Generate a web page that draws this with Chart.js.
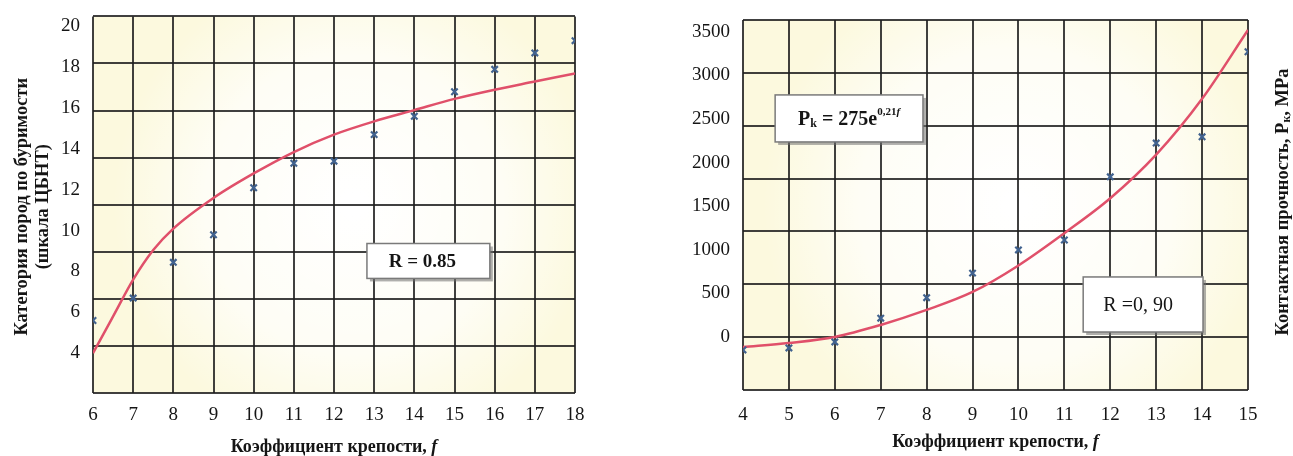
<!DOCTYPE html>
<html>
<head>
<meta charset="utf-8">
<script src="https://cdn.jsdelivr.net/npm/chart.js@4.4.1/dist/chart.umd.min.js"></script>
<style>
  html, body { margin: 0; padding: 0; background: #fff; overflow: hidden; }
  #wrapLeft { position: absolute; left: 0; top: 0; width: 600px; height: 456px; }
  #wrapRight { position: absolute; left: 640px; top: 0; width: 653px; height: 456px; }
</style>
</head>
<body>
<div id="wrapLeft"><canvas id="leftChart"></canvas></div>
<div id="wrapRight"><canvas id="rightChart"></canvas></div>
<script>
// --- left chart: drillability category vs. strength coefficient f
const fLeft = [6, 7, 8, 9, 10, 11, 12, 13, 14, 15, 16, 17, 18];
const categoryPoints = [5.6, 6.7, 8.45, 9.8, 12.1, 13.3, 13.4, 14.7, 15.6, 16.8, 17.9, 18.7, 19.3];
const fCurveLeft = [6, 6.5, 7, 7.5, 8, 9, 10, 11, 12, 13, 14, 15, 16, 17, 18];
const categoryCurve = [4.0, 5.8, 7.6, 9.05, 10.1, 11.6, 12.8, 13.85, 14.7, 15.35, 15.9, 16.45, 16.9, 17.3, 17.7];
const leftTicksY = [4, 6, 8, 10, 12, 14, 16, 18, 20];

// --- right chart: contact strength Pk vs. f
const fRight = [4, 5, 6, 7, 8, 9, 10, 11, 12, 13, 14, 15];
const pkPoints = [-149, -126, -57, 215, 450, 732, 998, 1112, 1836, 2223, 2295, 3270];
const fCurveRight = [4, 5, 6, 7, 8, 9, 10, 11, 12, 13, 14, 15];
const pkCurve = [-115, -69, 0, 138, 310, 516, 820, 1190, 1590, 2090, 2730, 3520];
const rightTicksY = [0, 500, 1000, 1500, 2000, 2500, 3000, 3500];

const SERIF = '"Liberation Serif", "Times New Roman", serif';
const GRID = 'rgba(30, 30, 30, 0.85)';
const RED = '#e0506a';
const BLUE = '#41628f';

function drawRuns(ctx, runs, x, y, rot) {
  ctx.save();
  ctx.translate(x, y);
  ctx.rotate(rot || 0);
  ctx.textAlign = 'left';
  ctx.textBaseline = 'middle';
  ctx.fillStyle = '#151515';
  let total = 0;
  runs.forEach(r => { ctx.font = r.font; r.w = ctx.measureText(r.text).width; total += r.w; });
  let cx = -total / 2;
  runs.forEach(r => {
    ctx.font = r.font;
    ctx.fillText(r.text, cx, r.dy || 0);
    cx += r.w;
  });
  ctx.restore();
}

// cream paper background with lighter middle
const paper = {
  id: 'paper',
  beforeDraw(chart) {
    const { ctx, chartArea: a } = chart;
    ctx.save();
    ctx.fillStyle = '#fcf9de';
    ctx.fillRect(a.left, a.top, a.right - a.left, a.bottom - a.top);
    const cx = (a.left + a.right) / 2 + 20, cy = (a.top + a.bottom) / 2;
    const g = ctx.createRadialGradient(cx, cy, 10, cx, cy, (a.right - a.left) * 0.5);
    g.addColorStop(0, 'rgba(255,255,255,1)');
    g.addColorStop(0.6, 'rgba(255,255,255,0.7)');
    g.addColorStop(1, 'rgba(255,255,255,0)');
    ctx.fillStyle = g;
    ctx.fillRect(a.left, a.top, a.right - a.left, a.bottom - a.top);
    ctx.restore();
  }
};

// text boxes and axis titles
const labels = {
  id: 'labels',
  afterDatasetsDraw(chart, args, opts) {
    const { ctx, chartArea: a, scales } = chart;
    (opts.boxes || []).forEach(b => {
      const x0 = scales.x.getPixelForValue(b.x0), x1 = scales.x.getPixelForValue(b.x1);
      const y0 = scales.y.getPixelForValue(b.y0), y1 = scales.y.getPixelForValue(b.y1);
      ctx.save();
      ctx.fillStyle = 'rgba(110,110,110,0.55)';
      ctx.fillRect(x0 + 3, y0 + 3, x1 - x0, y1 - y0);
      ctx.fillStyle = '#fff';
      ctx.fillRect(x0, y0, x1 - x0, y1 - y0);
      ctx.strokeStyle = '#7a7a7a';
      ctx.lineWidth = 1.5;
      ctx.strokeRect(x0, y0, x1 - x0, y1 - y0);
      ctx.restore();
      drawRuns(ctx, b.runs, (x0 + x1) / 2 + (b.dx || 0), (y0 + y1) / 2 + 1, 0);
    });
    (opts.titles || []).forEach(t => {
      const x = t.ref === 'right' ? a.right + t.dx : t.ref === 'left' ? a.left + t.dx : (a.left + a.right) / 2;
      const y = t.ref === 'bottom' ? a.bottom + t.dy : (a.top + a.bottom) / 2 + t.dy;
      drawRuns(ctx, t.runs, x, y, t.rot);
    });
  }
};

const titleFont = 'bold 18px ' + SERIF;
const yTitleFont = 'bold 18.5px ' + SERIF;
const xTitleRuns = [
  { text: 'Коэффициент крепости, ', font: titleFont },
  { text: 'f', font: 'bold italic 18px ' + SERIF }
];

function makeScales(xMin, xMax, yMin, yMax, ticksY, gridRows, yWidth, xHeight, tickPad) {
  return {
    x: {
      type: 'linear', min: xMin, max: xMax,
      ticks: { stepSize: 1, font: { family: SERIF, size: 19 }, color: '#151515', padding: tickPad, maxRotation: 0, autoSkip: false },
      grid: { color: GRID, lineWidth: 2, drawTicks: false },
      border: { display: false },
      afterFit: s => { s.height = xHeight; }
    },
    y: {
      type: 'linear', position: 'left', min: yMin, max: yMax,
      afterBuildTicks: s => { s.ticks = ticksY.map(v => ({ value: v })); },
      ticks: { font: { family: SERIF, size: 19 }, color: '#151515', padding: 5, callback: v => String(v) },
      grid: { display: false },
      border: { display: false },
      afterFit: s => { s.width = yWidth; }
    },
    yg: {
      type: 'linear', position: 'right', min: 0, max: gridRows,
      ticks: { display: false, stepSize: 1 },
      grid: { color: GRID, lineWidth: 2, drawTicks: false },
      border: { display: false },
      afterFit: s => { s.width = 0; }
    }
  };
}

function pts(xs, ys) { return xs.map((x, i) => ({ x: x, y: ys[i] })); }

function datasets(px, py, cx, cy) {
  return [
    {
      label: 'measured', data: pts(px, py), showLine: false,
      pointStyle: 'crossRot', pointRadius: 4.5, pointBorderWidth: 2.2,
      pointBorderColor: BLUE, pointBackgroundColor: BLUE
    },
    {
      label: 'fit', data: pts(cx, cy), showLine: true, pointRadius: 0,
      borderColor: RED, borderWidth: 2.5, cubicInterpolationMode: 'monotone'
    }
  ];
}

new Chart(document.getElementById('leftChart'), {
  type: 'scatter',
  data: { datasets: datasets(fLeft, categoryPoints, fCurveLeft, categoryCurve) },
  options: {
    responsive: true, maintainAspectRatio: false, animation: false,
    layout: { padding: { top: 15, right: 25, left: 0, bottom: 0 } },
    scales: makeScales(6, 18, 2.05, 20.49, leftTicksY, 8, 93, 63, 11),
    plugins: {
      legend: { display: false }, tooltip: { enabled: false },
      labels: {
        boxes: [
          { x0: 12.82, x1: 15.88, y0: 9.37, y1: 7.66, dx: -6, runs: [{ text: 'R = 0.85', font: 'bold 19px ' + SERIF }] }
        ],
        titles: [
          { ref: 'bottom', dy: 54, runs: xTitleRuns, rot: 0 },
          { ref: 'left', dx: -71, dy: 2, rot: -Math.PI / 2, runs: [{ text: 'Категория пород по буримости', font: yTitleFont }] },
          { ref: 'left', dx: -50, dy: 2, rot: -Math.PI / 2, runs: [{ text: '(шкала ЦБНТ)', font: yTitleFont }] }
        ]
      }
    }
  },
  plugins: [paper, labels]
});

new Chart(document.getElementById('rightChart'), {
  type: 'scatter',
  data: { datasets: datasets(fRight, pkPoints, fCurveRight, pkCurve) },
  options: {
    responsive: true, maintainAspectRatio: false, animation: false,
    layout: { padding: { top: 20, right: 45, left: 0, bottom: 0 } },
    scales: makeScales(4, 15, -608, 3634, rightTicksY, 7, 103, 66, 14),
    plugins: {
      legend: { display: false }, tooltip: { enabled: false },
      labels: {
        boxes: [
          {
            x0: 4.70, x1: 7.92, y0: 2775, y1: 2236, runs: [
              { text: 'P', font: 'bold 20px ' + SERIF },
              { text: 'k', font: 'bold 12px ' + SERIF, dy: 4 },
              { text: ' = 275e', font: 'bold 20px ' + SERIF },
              { text: '0,21', font: 'bold 11px ' + SERIF, dy: -7 },
              { text: 'f', font: 'bold italic 11px ' + SERIF, dy: -7 }
            ]
          },
          { x0: 11.41, x1: 14.02, y0: 688, y1: 57, dx: -5, runs: [{ text: 'R =0, 90', font: '20px ' + SERIF }] }
        ],
        titles: [
          { ref: 'bottom', dy: 52, runs: xTitleRuns, rot: 0 },
          {
            ref: 'right', dx: 35, dy: -3, rot: -Math.PI / 2, runs: [
              { text: 'Контактная прочность, P', font: yTitleFont },
              { text: 'к', font: 'bold 12px ' + SERIF, dy: 4 },
              { text: ', MPa', font: yTitleFont }
            ]
          }
        ]
      }
    }
  },
  plugins: [paper, labels]
});
</script>
</body>
</html>
